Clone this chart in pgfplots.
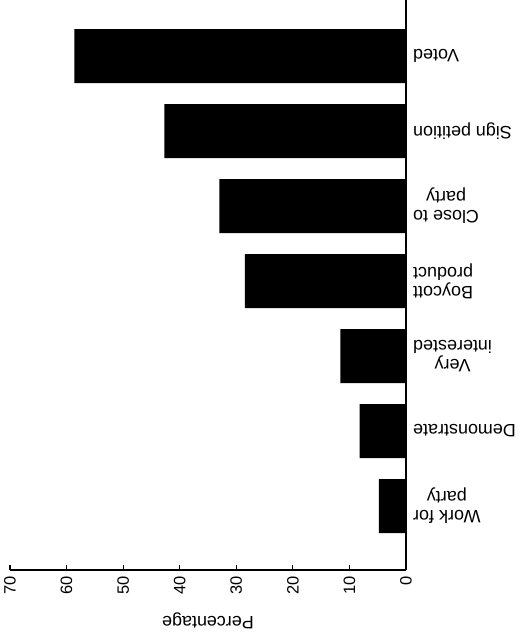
\documentclass[border=0pt]{standalone}
\usepackage{pgfplots}
\usepackage{pgfplotstable}
\pgfplotsset{compat=1.18}
\usepackage{fontspec}
\setmainfont{Liberation Sans}

% share of respondents reporting each form of participation (%)
\pgfplotstableread{
idx value
0 58.6
1 42.7
2 33.0
3 28.5
4 11.6
5 8.2
6 4.8
}\participation

\begin{document}
\begin{tikzpicture}[x=1bp,y=1bp]
\useasboundingbox (0,0) rectangle (526,633);
\begin{axis}[
  at={(10bp,63bp)}, anchor=south west,
  scale only axis, width=396bp, height=570bp,
  xbar, bar width=54bp,
  x dir=reverse, y dir=reverse,
  xmin=0, xmax=70, ymin=-0.747, ymax=6.853,
  axis x line*=bottom, axis y line*=right,
  axis line style={line width=1.2bp, black},
  xtick={0,10,...,70},
  tick align=inside,
  major tick length=5bp,
  every tick/.style={line width=1.1bp, black},
  /pgf/number format/assume math mode=true,
  xticklabel style={rotate=90, anchor=east, inner xsep=6bp,
                    font=\fontsize{16.5}{18}\selectfont},
  ytick={0,...,6},
  yticklabels={Voted, Sign petition, {Close to\\party}, {Boycott\\product},
               {Very\\interested}, Demonstrate, {Work for\\party}},
  yticklabel pos=right,
  ytick style={draw=none},
  yticklabel style={rotate=180, anchor=east, align=center, inner xsep=7bp,
                    font=\fontsize{18}{19}\selectfont},
  xlabel={Percentage},
  xlabel style={rotate=180, anchor=south, inner ysep=12bp,
                font=\fontsize{18}{20}\selectfont},
]
\addplot[fill=black, draw=none] table[x=value, y=idx] {\participation};
\end{axis}
\end{tikzpicture}
\end{document}
